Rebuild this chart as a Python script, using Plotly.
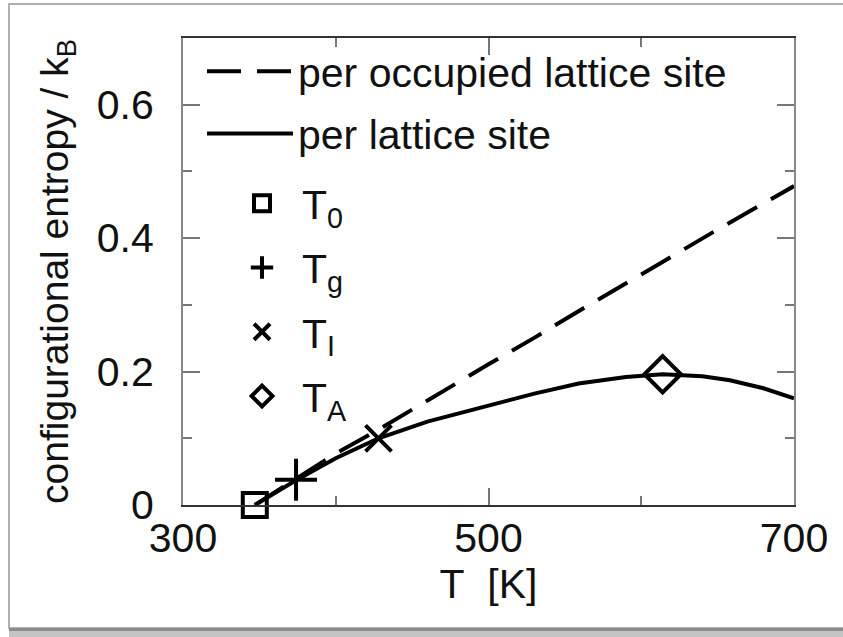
import plotly.graph_objects as go

# ---- data ----
T_occ = [347, 374, 400, 428, 460, 500, 531, 560, 607, 650, 700]
S_occ = [0.0, 0.040, 0.077, 0.113, 0.157, 0.211, 0.252, 0.292, 0.355, 0.413, 0.478]

T_site = [347, 374, 400, 428, 460, 494, 530, 559, 590, 614, 640, 658, 680, 700]
S_site = [0.0, 0.037, 0.070, 0.100, 0.125, 0.145, 0.167, 0.182, 0.192, 0.196, 0.193, 0.187, 0.175, 0.160]

mark_names = ["T<sub>0</sub>", "T<sub>g</sub>", "T<sub>I</sub>", "T<sub>A</sub>"]
mark_T = [347, 374, 428, 614]
mark_S = [0.0, 0.038, 0.100, 0.196]
mark_symbols = ["square-open", "cross-thin-open", "x-thin-open", "diamond-open"]
mark_sizes = [24, 30, 26, 28]

FONT = "Liberation Sans, Arial, Helvetica, sans-serif"
FS = 41

# plot-area geometry in pixels (for paper-coordinate decorations)
W, H = 843, 637
L, R, TOP, BOT = 183, 794, 38, 505


def px(x):
    return (x - L) / (R - L)


def py(y):
    return (BOT - y) / (BOT - TOP)


fig = go.Figure()

# dashed curve
fig.add_trace(go.Scatter(
    x=T_occ, y=S_occ, mode="lines", name="per occupied lattice site",
    line=dict(color="black", width=4, dash="34px,16px"),
    legend="legend", legendgroup="a", cliponaxis=False,
))
# solid curve
fig.add_trace(go.Scatter(
    x=T_site, y=S_site, mode="lines", name="per lattice site",
    line=dict(color="black", width=4),
    legend="legend", legendgroup="b", cliponaxis=False,
))

# characteristic temperatures
for i in range(len(mark_T)):
    fig.add_trace(go.Scatter(
        x=[mark_T[i]], y=[mark_S[i]], mode="markers", name=mark_names[i],
        marker=dict(symbol=mark_symbols[i], size=mark_sizes[i], color="black",
                    line=dict(color="black", width=4)),
        legend="legend2", legendgroup="m%d" % i, cliponaxis=False,
    ))

axis_common = dict(
    ticks="inside", mirror="ticks", showline=True, showgrid=False, zeroline=False,
    tickfont=dict(family=FONT, size=FS, color="#111"),
    tickcolor="#777", tickwidth=2, ticklen=17,
)

fig.update_xaxes(
    range=[300, 700], tick0=300, dtick=200,
    linecolor="#333", linewidth=2,
    minor=dict(ticks="inside", dtick=100, ticklen=9, tickcolor="#777", tickwidth=2),
    title=dict(text="T\u00a0\u00a0[K]", font=dict(family=FONT, size=FS, color="#111"), standoff=8),
    ticklabelstandoff=-4,
    **axis_common,
)
fig.update_yaxes(
    range=[0, 0.7], tick0=0, dtick=0.2,
    linecolor="#888", linewidth=2,
    minor=dict(ticks="inside", dtick=0.1, ticklen=9, tickcolor="#777", tickwidth=2),
    title=dict(text="configurational entropy / k<sub>B</sub>",
               font=dict(family=FONT, size=39, color="#111"), standoff=16),
    ticklabelstandoff=19,
    **axis_common,
)

# outer screenshot-like frame
shapes = [
    dict(type="rect", xref="paper", yref="paper",
         x0=px(9), x1=px(W + 10), y0=py(628), y1=py(4),
         line=dict(color="#b0b0b0", width=2), fillcolor="rgba(0,0,0,0)", layer="below"),
    dict(type="rect", xref="paper", yref="paper",
         x0=px(9), x1=px(W + 10), y0=py(631), y1=py(628),
         line=dict(width=0), fillcolor="#8c8c8c", layer="below"),
    dict(type="rect", xref="paper", yref="paper",
         x0=px(9), x1=px(W + 10), y0=py(H + 2), y1=py(631),
         line=dict(width=0), fillcolor="#c4c4c4", layer="below"),
]

fig.update_layout(
    width=W, height=H,
    margin=dict(l=L, r=W - R, t=TOP, b=H - BOT),
    paper_bgcolor="white", plot_bgcolor="white",
    font=dict(family=FONT, color="#111"),
    shapes=shapes,
    legend=dict(
        x=px(202), y=py(38), xanchor="left", yanchor="top",
        font=dict(family=FONT, size=FS, color="#111"),
        bgcolor="rgba(0,0,0,0)", borderwidth=0, tracegroupgap=6,
        itemwidth=86,
        itemclick=False, itemdoubleclick=False,
    ),
    legend2=dict(
        x=px(222), y=py(170), xanchor="left", yanchor="top",
        font=dict(family=FONT, size=FS, color="#111"),
        bgcolor="rgba(0,0,0,0)", borderwidth=0, tracegroupgap=8,
        itemwidth=70,
        itemclick=False, itemdoubleclick=False,
    ),
)

fig.write_html("out.html")
